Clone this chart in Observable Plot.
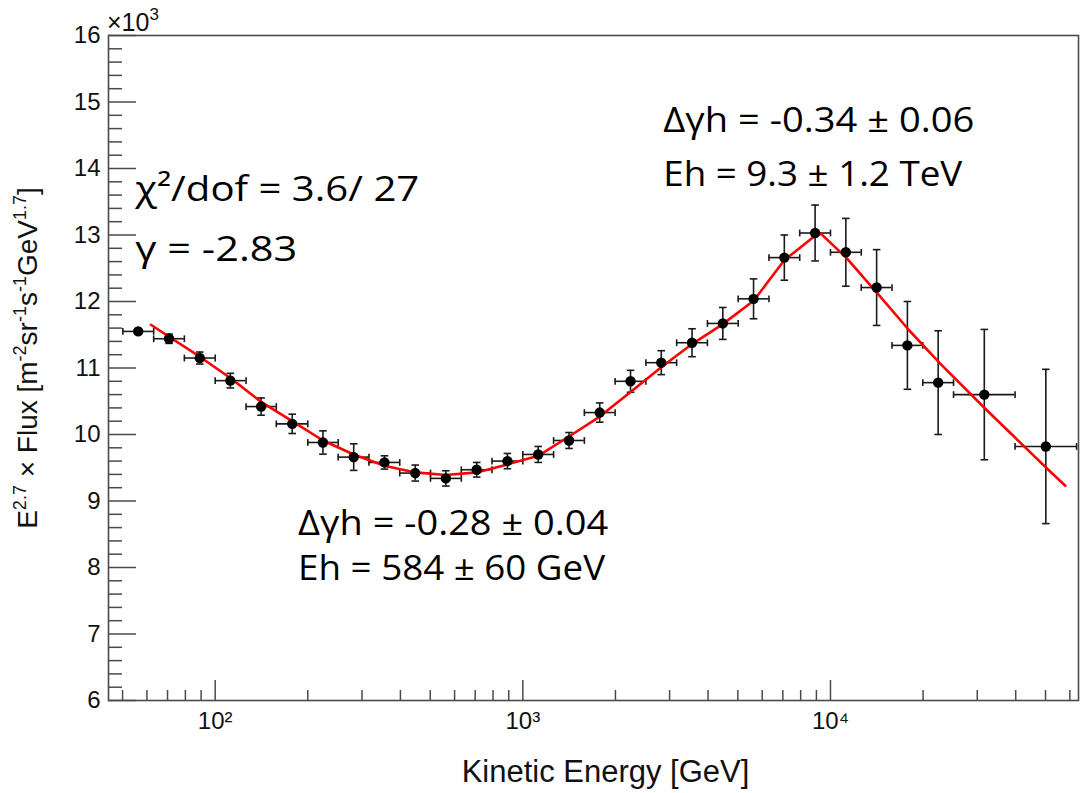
<!DOCTYPE html>
<html>
<head>
<meta charset="utf-8">
<script src="https://cdn.jsdelivr.net/npm/d3@7"></script>
<script src="https://cdn.jsdelivr.net/npm/@observablehq/plot@0.6"></script>
<style>
  body { margin: 0; background: #fff; }
  #chart svg { display: block; }
</style>
</head>
<body>
<div id="chart"></div>
<script>
// ---- data (flux in units of 10^3) ----
const energy = [56.2, 70.8, 89.1, 112, 141, 178, 224, 282, 355, 447, 562, 708, 891, 1122, 1413, 1778, 2239, 2818, 3548, 4467, 5623, 7079, 8913, 11220, 14125, 17783, 22387, 31623, 50119];
const eLow  = [50.1, 63.1, 79.4, 100, 126, 158, 200, 251, 316, 398, 501, 631, 794, 1000, 1259, 1585, 1995, 2512, 3162, 3981, 5012, 6310, 7943, 10000, 12589, 15849, 19953, 25119, 39811];
const eHigh = [63.1, 79.4, 100, 126, 158, 200, 251, 316, 398, 501, 631, 794, 1000, 1259, 1585, 1995, 2512, 3162, 3981, 5012, 6310, 7943, 10000, 12589, 15849, 19953, 25119, 39811, 63096];
const flux = [11.55, 11.44, 11.15, 10.81, 10.42, 10.16, 9.88, 9.66, 9.58, 9.42, 9.34, 9.47, 9.60, 9.70, 9.91, 10.33, 10.80, 11.08, 11.38, 11.67, 12.04, 12.66, 13.03, 12.74, 12.21, 11.34, 10.78, 10.60, 9.82];
const fluxErr = [0.04, 0.07, 0.09, 0.11, 0.13, 0.145, 0.175, 0.2, 0.1, 0.12, 0.115, 0.11, 0.115, 0.12, 0.12, 0.145, 0.165, 0.18, 0.21, 0.24, 0.30, 0.34, 0.42, 0.51, 0.57, 0.66, 0.78, 0.98, 1.16];

const fitEnergy = [61.8, 70.8, 89.1, 112, 141, 178, 224, 282, 355, 447, 562, 708, 891, 1122, 1413, 1778, 2239, 2818, 3548, 4467, 5623, 7079, 8913, 9300, 11250, 14350, 18070, 22700, 31980, 51050, 58000];
const fitFlux   = [11.65, 11.47, 11.17, 10.85, 10.49, 10.20, 9.91, 9.70, 9.53, 9.43, 9.39, 9.43, 9.55, 9.68, 9.97, 10.27, 10.64, 11.01, 11.36, 11.66, 12.01, 12.62, 12.99, 13.02, 12.66, 12.10, 11.56, 11.07, 10.38, 9.47, 9.23];

const xMajorTicks = [100, 1000, 10000];
const xTickLabels = ["10²", "10³", "10⁴"];
const xMinorTicks = [50, 60, 70, 80, 90, 200, 300, 400, 500, 600, 700, 800, 900,
  2000, 3000, 4000, 5000, 6000, 7000, 8000, 9000, 20000, 30000, 40000, 50000, 60000];
const yMajorTicks = [6, 7, 8, 9, 10, 11, 12, 13, 14, 15, 16];
const yTickLabels = ["6", "7", "8", "9", "10", "11", "12", "13", "14", "15", "16"];
const yMinorTicks = yMajorTicks.slice(0, -1).flatMap(v => [0.2, 0.4, 0.6, 0.8].map(f => +(v + f).toFixed(1)));

const annotations = [
  {e: 55,   f: 13.68, label: "χ²/dof = 3.6/ 27",   width: 284},
  {e: 55,   f: 12.78, label: "γ = -2.83",          width: 162},
  {e: 2860, f: 14.71, label: "Δγh = -0.34 ± 0.06", width: 311},
  {e: 2860, f: 13.91, label: "Eh = 9.3 ± 1.2 TeV", width: 299},
  {e: 186,  f: 8.65,  label: "Δγh = -0.28 ± 0.04", width: 310},
  {e: 186,  f: 7.98,  label: "Eh = 584 ± 60 GeV",  width: 307}
];

// ---- build tables ----
const points = energy.map((e, i) => ({e, lo: eLow[i], hi: eHigh[i], f: flux[i], err: fluxErr[i]}));
const fit = fitEnergy.map((e, i) => ({e, f: fitFlux[i]}));
const xLabelMap = new Map(xMajorTicks.map((t, i) => [t, xTickLabels[i]]));
const yLabelMap = new Map(yMajorTicks.map((t, i) => [t, yTickLabels[i]]));

// custom cap symbols
const hCap = {draw(ctx, size) { const r = Math.sqrt(size / Math.PI); ctx.moveTo(-r, 0); ctx.lineTo(r, 0); }};
const vCap = {draw(ctx, size) { const r = Math.sqrt(size / Math.PI); ctx.moveTo(0, -r); ctx.lineTo(0, r); }};

const W = 1081, H = 793, mL = 108, mR = 3, mT = 35, mB = 93;
const plotW = W - mL - mR, plotH = H - mT - mB;
const axisColor = "#4a4a4a";
const barColor = "#1a1a1a";
const rootFont = "'Liberation Sans', Arial, Helvetica, sans-serif";
const annFont = "'Open Sans', 'Noto Sans', sans-serif";

const chart = Plot.plot({
  width: W, height: H,
  marginLeft: mL, marginRight: mR, marginTop: mT, marginBottom: mB,
  style: {background: "#fff", fontFamily: rootFont},
  x: {type: "log", domain: [45, 64000]},
  y: {domain: [6, 16]},
  marks: [
    // inward ticks
    Plot.tickX(xMajorTicks, {x: d => d, insetTop: plotH - 20, stroke: axisColor, strokeWidth: 1.5}),
    Plot.tickX(xMinorTicks, {x: d => d, insetTop: plotH - 10, stroke: axisColor, strokeWidth: 1.5}),
    Plot.tickY(yMajorTicks, {y: d => d, insetRight: plotW - 28, stroke: axisColor, strokeWidth: 1.5}),
    Plot.tickY(yMinorTicks, {y: d => d, insetRight: plotW - 14, stroke: axisColor, strokeWidth: 1.5}),
    // tick labels
    Plot.axisX(xMajorTicks, {tickSize: 0, tickPadding: 11, tickFormat: d => xLabelMap.get(d), fontSize: 24, fill: "#111", label: null}),
    Plot.axisY(yMajorTicks, {tickSize: 0, tickPadding: 8, tickFormat: d => yLabelMap.get(d), fontSize: 24, fill: "#111", label: null}),
    // error bars
    Plot.ruleY(points, {y: "f", x1: "lo", x2: "hi", stroke: barColor, strokeWidth: 1.6}),
    Plot.ruleX(points, {x: "e", y1: d => d.f - d.err, y2: d => d.f + d.err, stroke: barColor, strokeWidth: 1.6}),
    Plot.dot(points, {x: "lo", y: "f", symbol: vCap, r: 3.4, stroke: barColor, fill: "none", strokeWidth: 1.6}),
    Plot.dot(points, {x: "hi", y: "f", symbol: vCap, r: 3.4, stroke: barColor, fill: "none", strokeWidth: 1.6}),
    Plot.dot(points, {x: "e", y: d => d.f - d.err, symbol: hCap, r: 3.8, stroke: barColor, fill: "none", strokeWidth: 1.6}),
    Plot.dot(points, {x: "e", y: d => d.f + d.err, symbol: hCap, r: 3.8, stroke: barColor, fill: "none", strokeWidth: 1.6}),
    // fit
    Plot.line(fit, {x: "e", y: "f", stroke: "#ff0000", strokeWidth: 2.6}),
    // points
    Plot.dot(points, {x: "e", y: "f", r: 5.2, fill: "#000", stroke: "none"}),
    // annotations
    Plot.text(annotations, {x: "e", y: "f", text: "label", textAnchor: "start", lineAnchor: "middle",
      fontSize: 35, fontFamily: annFont, fill: "#000"}),
    // x title
    Plot.text(["Kinetic Energy [GeV]"], {frameAnchor: "bottom", dx: 12, dy: 72, fontSize: 31, fill: "#111", lineAnchor: "middle"}),
    Plot.frame({stroke: axisColor, strokeWidth: 1.6})
  ]
});

document.getElementById("chart").appendChild(chart);

const svg = d3.select(chart);

// stretch annotation text widths to match the reference
const widthByLabel = new Map(annotations.map(a => [a.label, a.width]));
svg.selectAll("text").each(function () {
  const w = widthByLabel.get(this.textContent);
  if (w) d3.select(this).attr("textLength", w).attr("lengthAdjust", "spacingAndGlyphs");
});

// multiplier ×10^3
const mult = svg.append("text")
  .attr("x", 107).attr("y", 31)
  .attr("text-anchor", "start")
  .attr("font-family", rootFont).attr("font-size", 25).attr("fill", "#111");
mult.append("tspan").text("×10");
mult.append("tspan").text("3").attr("font-size", 17).attr("dy", -11);

// y-axis title with superscripts
const yt = svg.append("text")
  .attr("transform", "translate(37,358) rotate(-90)")
  .attr("text-anchor", "middle")
  .attr("font-family", rootFont)
  .attr("font-size", 28)
  .attr("fill", "#111");
const parts = [["E", false], ["2.7", true], [" × Flux [m", false], ["-2", true], ["sr", false], ["-1", true],
  ["s", false], ["-1", true], ["GeV", false], ["1.7", true], ["]", false]];
let prevSup = false;
for (const [t, sup] of parts) {
  const ts = yt.append("tspan").text(t);
  if (sup) ts.attr("font-size", 18).attr("dy", prevSup ? 0 : -11);
  else if (prevSup) ts.attr("dy", 11);
  prevSup = sup;
}
</script>
</body>
</html>
